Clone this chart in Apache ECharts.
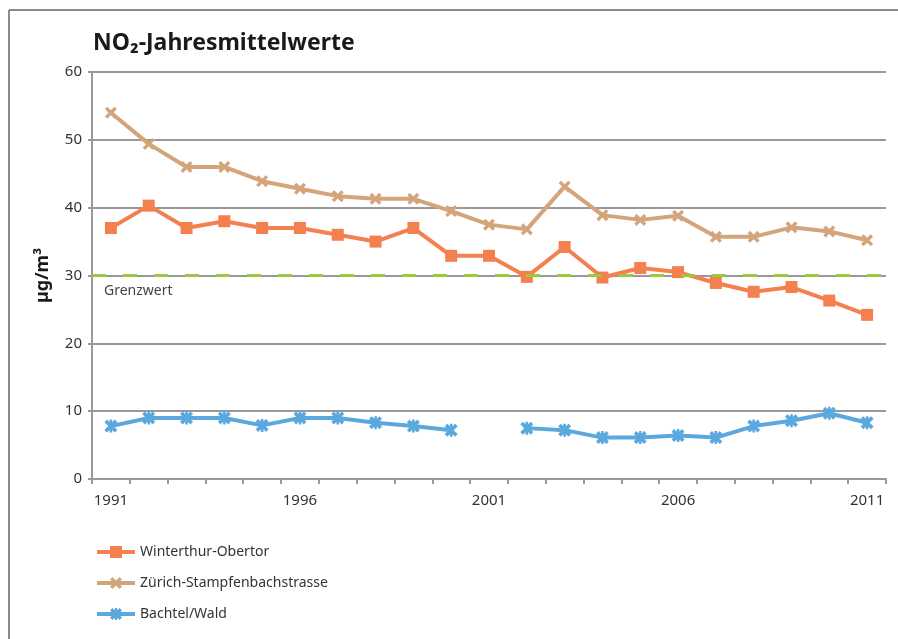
<!DOCTYPE html>
<html>
<head>
<meta charset="utf-8">
<style>
  html, body { margin: 0; padding: 0; background: #fff; }
  #chart { width: 898px; height: 639px; }
</style>
<script src="https://cdn.jsdelivr.net/npm/echarts@6/dist/echarts.min.js"></script>
</head>
<body>
<div id="chart"></div>
<script>
// Jahre
var years = ['1991', '1992', '1993', '1994', '1995', '1996', '1997', '1998', '1999', '2000',
  '2001', '2002', '2003', '2004', '2005', '2006', '2007', '2008', '2009', '2010', '2011'];

var winterthur = [37, 40.3, 37, 38, 37, 37, 36, 35, 37, 32.9, 32.9, 29.8, 34.2, 29.7, 31.1, 30.5, 28.9, 27.6, 28.3, 26.3, 24.2];
var zuerich = [54, 49.4, 46, 46, 43.9, 42.8, 41.7, 41.3, 41.3, 39.5, 37.5, 36.8, 43.1, 38.9, 38.2, 38.8, 35.7, 35.7, 37.1, 36.5, 35.2];
var bachtel = [7.8, 9, 9, 9, 7.9, 9, 9, 8.3, 7.8, 7.2, '-', 7.5, 7.2, 6.1, 6.1, 6.4, 6.1, 7.8, 8.6, 9.7, 8.3];

var grenzwert = 30;

var fontFamily = '"Noto Sans", "DejaVu Sans", sans-serif';

// Marker-Formen
var crossPath = 'path://M0,2 L2,0 L5,3 L8,0 L10,2 L7,5 L10,8 L8,10 L5,7 L2,10 L0,8 L3,5 Z';
var starPath = 'path://M0,2 L2,0 L5,3 L8,0 L10,2 L7,5 L10,8 L8,10 L5,7 L2,10 L0,8 L3,5 Z M4,0 L6,0 L6,10 L4,10 Z';

var myChart = echarts.init(document.getElementById('chart'));

myChart.setOption({
  animation: false,
  textStyle: { fontFamily: fontFamily },
  title: {
    text: 'NO₂-Jahresmittelwerte',
    left: 88,
    top: 27,
    textStyle: { fontSize: 23, fontWeight: 'bold', color: '#1a1a1a', fontFamily: fontFamily }
  },
  graphic: [
    { type: 'line', shape: { x1: 9, y1: 10, x2: 9, y2: 639 }, style: { stroke: '#8a8a8a', lineWidth: 2 } },
    { type: 'line', shape: { x1: 9, y1: 10, x2: 898, y2: 10 }, style: { stroke: '#8a8a8a', lineWidth: 2 } }
  ],
  legend: {
    orient: 'vertical',
    left: 90,
    top: 540,
    itemWidth: 38,
    itemHeight: 15,
    itemGap: 17,
    lineStyle: { width: 4 },
    textStyle: { fontSize: 14, color: '#333' },
    data: ['Winterthur-Obertor', 'Zürich-Stampfenbachstrasse', 'Bachtel/Wald']
  },
  grid: { left: 92, right: 12, top: 72, bottom: 160 },
  xAxis: {
    type: 'category',
    data: years,
    boundaryGap: true,
    axisLine: { lineStyle: { color: '#999', width: 2 } },
    axisTick: { show: true, interval: 0, length: 5, lineStyle: { color: '#999', width: 2 } },
    axisLabel: { interval: 4, fontSize: 15, color: '#333', margin: 14 }
  },
  yAxis: {
    type: 'value',
    min: 0,
    max: 60,
    interval: 10,
    name: 'µg/m³',
    nameLocation: 'middle',
    nameRotate: 90,
    nameGap: 40,
    nameTextStyle: { fontSize: 18, fontWeight: 'bold', color: '#1a1a1a' },
    axisLine: { show: true, lineStyle: { color: '#999', width: 2 } },
    axisTick: { show: true, length: 4, lineStyle: { color: '#999', width: 2 } },
    axisLabel: { fontSize: 15, color: '#333', margin: 10 },
    splitLine: { lineStyle: { color: '#999', width: 2 } }
  },
  series: [
    {
      name: 'Winterthur-Obertor',
      type: 'line',
      data: winterthur,
      symbol: 'rect',
      symbolSize: 12,
      color: '#f5804f',
      lineStyle: { width: 4 },
      itemStyle: { color: '#f5804f' },
      z: 3,
      markLine: {
        silent: true,
        symbol: 'none',
        lineStyle: { color: '#9bcb3c', width: 3, type: 'dashed', dashOffset: 0 },
        label: {
          show: true,
          position: 'insideStartBottom',
          formatter: 'Grenzwert',
          color: '#444',
          fontSize: 14,
          distance: [12, 9]
        },
        data: [{ yAxis: grenzwert, lineStyle: { type: [14, 17] } }]
      }
    },
    {
      name: 'Zürich-Stampfenbachstrasse',
      type: 'line',
      data: zuerich,
      symbol: crossPath,
      symbolSize: 12,
      color: '#d4a47a',
      lineStyle: { width: 4 },
      itemStyle: { color: '#d4a47a' },
      z: 2
    },
    {
      name: 'Bachtel/Wald',
      type: 'line',
      data: bachtel,
      symbol: starPath,
      symbolSize: 13,
      color: '#5aa8de',
      lineStyle: { width: 4 },
      itemStyle: { color: '#5aa8de' },
      z: 2
    }
  ]
});
</script>
</body>
</html>
